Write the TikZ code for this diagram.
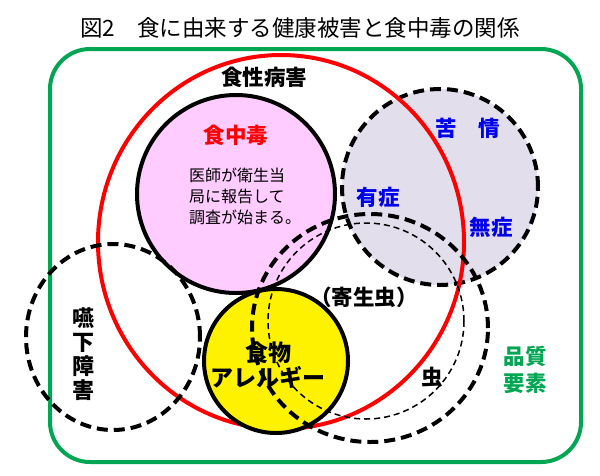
\documentclass[tikz,border=0pt]{standalone}
\usepackage{fontspec}
\setmainfont{Noto Sans CJK JP}[BoldFont={Noto Sans CJK JP Black}]
\usetikzlibrary{positioning, shapes.geometric}
\definecolor{framegreen}{RGB}{0,166,81}
\definecolor{pinkfill}{RGB}{255,204,255}
\definecolor{greyfill}{RGB}{226,222,236}
\definecolor{labelblue}{RGB}{0,0,235}
\tikzset{
	area/.style={
		circle,
		draw,
		line width=4pt,
		inner sep=0pt,
	},
	bigdash/.style={
		draw,
		line width=4pt,
		dash pattern=on 11pt off 6pt,
	},
	smalldash/.style={
		draw,
		line width=1.5pt,
		dash pattern=on 6pt off 4pt,
	},
	tag/.style={
		font=\fontsize{21.5}{27}\selectfont\bfseries,
		align=center,
		inner sep=0pt,
	},
	note/.style={
		font=\fontsize{16}{21}\selectfont,
		align=left,
		inner sep=0pt,
	},
}

\begin{document}
\begin{tikzpicture}[x=1pt, y=-1pt]
		\useasboundingbox (0,0) rectangle (600,475);
		% Title and frame
		\node [font=\fontsize{22.5}{24}\selectfont, inner sep=0pt] (title) at (300,28) {図2　食に由来する健康被害と食中毒の関係};
		\draw [framegreen, line width=4pt, rounded corners=40pt] (50,49) rectangle (581,462);
		
		% Place areas
		\node [area, fill=greyfill, bigdash, minimum size=196pt] (complaint) at (440,187) {};
		\node [ellipse, draw=red, line width=4pt, minimum width=366pt, minimum height=374pt] (disease) at (281,242) {};
		\node [area, fill=pinkfill, minimum size=198pt] (poison) at (236,194) {};
		\node [area, fill=yellow, minimum size=144pt] (allergy) at (276,361) {};
		\node [ellipse, bigdash, minimum width=174pt, minimum height=186pt] (swallow) at (113,337) {};
		\node [ellipse, bigdash, minimum width=236pt, minimum height=228pt] (parasite) at (370,328) {};
		\node [circle, smalldash, minimum size=196pt] (insect) at (366,321) {};
		
		% Labels
		\node [tag] (diseaselabel) at (264,77) {食性病害};
		\node [tag, red] (poisonlabel) at (236,135) {食中毒};
		\node [note] (poisonnote) at (245,196) {医師が衛生当\\局に報告して\\調査が始まる。};
		\node [tag, labelblue] (complaintlabel) at (468,128) {苦　情};
		\node [tag, labelblue] (symptom) at (378,197) {有症};
		\node [tag, labelblue] (nosymptom) at (491,227) {無症};
		\node [tag] (parasitelabel) at (364,297) {（寄生虫）};
		\node [tag, font=\fontsize{23}{25}\selectfont\bfseries] (allergylabel) at (268,365) {食物\\アレルギー};
		\node [tag] (insectlabel) at (432,377) {虫};
		\node [tag, font=\fontsize{22}{24}\selectfont\bfseries] (swallowlabel) at (83,354) {嚥\\下\\障\\害};
		\node [tag, framegreen] (qualitylabel) at (525,370) {品質\\要素};

	\end{tikzpicture}
\end{document}
